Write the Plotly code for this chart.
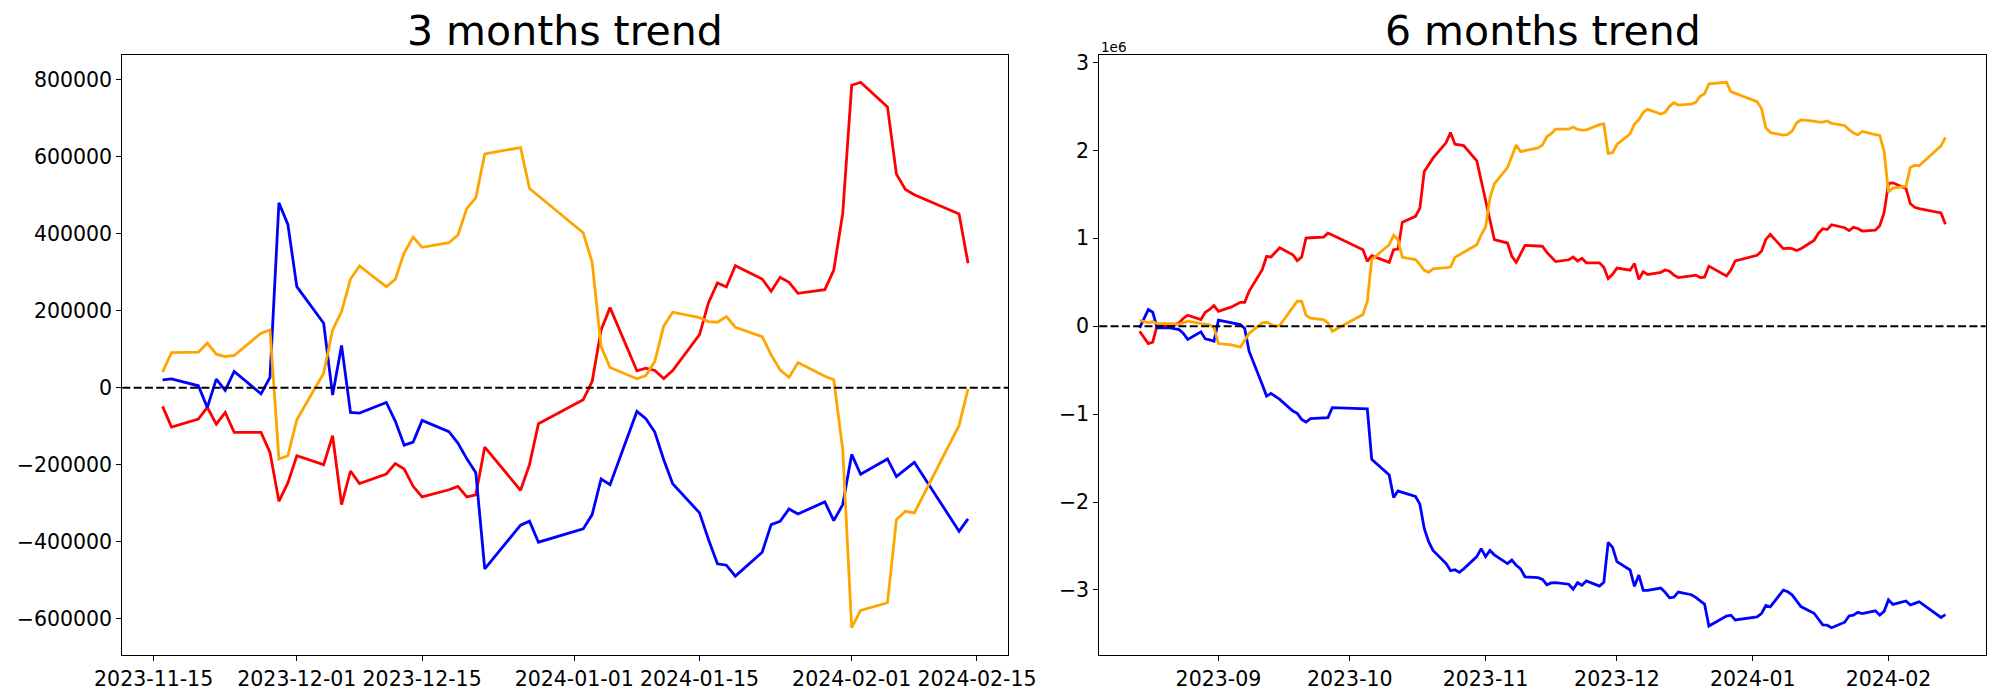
import pandas as pd
import plotly.graph_objects as go

# ---------------- data: 3 months ----------------
dates_3m = ["2023-11-16","2023-11-17","2023-11-20","2023-11-21","2023-11-22","2023-11-23","2023-11-24",
            "2023-11-27","2023-11-28","2023-11-29","2023-11-30",
            "2023-12-01","2023-12-04","2023-12-05","2023-12-06","2023-12-07","2023-12-08","2023-12-11",
            "2023-12-12","2023-12-13","2023-12-14","2023-12-15","2023-12-18","2023-12-19","2023-12-20",
            "2023-12-21","2023-12-22","2023-12-26","2023-12-27","2023-12-28",
            "2024-01-02","2024-01-03","2024-01-04","2024-01-05","2024-01-08","2024-01-09","2024-01-10",
            "2024-01-11","2024-01-12","2024-01-15","2024-01-16","2024-01-17","2024-01-18","2024-01-19",
            "2024-01-22","2024-01-23","2024-01-24","2024-01-25","2024-01-26","2024-01-29","2024-01-30",
            "2024-01-31",
            "2024-02-01","2024-02-02","2024-02-05","2024-02-06","2024-02-07","2024-02-08","2024-02-13",
            "2024-02-14"]

red_3m = [-48400,-102000,-81300,-51000,-94300,-64000,-115900,-115900,-167800,-294900,-247300,
          -176400,-199700,-124500,-303500,-216200,-249000,-224000,-197100,-211000,-256000,-283600,
          -265000,-256000,-283600,-278400,-153900,-266300,-199700,-93400,
          -31100,16400,150500,208300,44100,51100,44900,24100,44900,138300,221300,272400,262000,
          317300,282700,250800,287100,274100,245600,255000,306100,453100,
          786000,793800,729800,555100,515300,501500,451400,323400]

blue_3m = [20800,23300,5200,-51000,22500,-6900,42400,-15600,26800,480800,424500,
           262900,167700,-19000,109800,-64000,-65700,-38000,-86500,-149000,-140900,-84700,
           -114000,-143500,-184600,-220500,-470400,-357100,-346700,-401200,
           -366600,-329400,-236900,-251600,-61400,-80400,-115000,-186800,-249000,-325100,-394300,
           -457400,-460900,-489400,-427100,-355400,-346700,-314700,-327700,-296600,-345000,-303500,
           -173000,-224800,-185000,-230900,-212000,-193700,-372700,-340700]

orange_3m = [40700,91600,92500,115900,87300,81300,83900,141800,150500,-185000,-176400,
             -83000,38000,150500,198000,282700,316500,262900,281900,351000,391700,364900,
             377000,396900,466100,493700,607800,624300,517900,498900,
             402900,326000,107200,52700,23300,32000,68300,160800,196300,182400,172000,170300,
             185000,157400,133100,85600,46700,26800,65700,30000,20800,-160800,
             -623400,-578500,-558600,-342400,-320800,-325100,-97800,-3000]

# ---------------- data: 6 months ----------------
dates_6m_early = ["2023-08-14","2023-08-16","2023-08-17","2023-08-18","2023-08-21","2023-08-22",
                  "2023-08-23","2023-08-24","2023-08-25","2023-08-28","2023-08-29","2023-08-30",
                  "2023-08-31",
                  "2023-09-01","2023-09-04","2023-09-05","2023-09-06","2023-09-07","2023-09-08",
                  "2023-09-11","2023-09-12","2023-09-13","2023-09-14","2023-09-15","2023-09-18",
                  "2023-09-19","2023-09-20","2023-09-21","2023-09-22","2023-09-25","2023-09-26",
                  "2023-09-27",
                  "2023-10-04","2023-10-05","2023-10-06","2023-10-10","2023-10-11","2023-10-12",
                  "2023-10-13","2023-10-16","2023-10-17","2023-10-18","2023-10-19","2023-10-20",
                  "2023-10-23","2023-10-24","2023-10-25","2023-10-26","2023-10-27","2023-10-30",
                  "2023-10-31",
                  "2023-11-01","2023-11-02","2023-11-03","2023-11-06","2023-11-07","2023-11-08",
                  "2023-11-09","2023-11-10","2023-11-13","2023-11-14","2023-11-15"]
dates_6m = dates_6m_early + dates_3m

red_6m = [-57000,-197000,-182000,8000,8000,15000,38000,90000,125000,76000,159000,190000,235000,
          170000,219000,246000,272000,272000,397000,643000,795000,787000,840000,893000,813000,
          745000,787000,1003000,1006000,1014000,1059000,1037000,
          870000,738000,802000,726000,870000,878000,1184000,1249000,1343000,1759000,1835000,
          1911000,2089000,2202000,2070000,2062000,2054000,1880000,1646000,
          1438000,1200000,984000,946000,795000,726000,825000,919000,912000,908000,840000,
          788600,735000,755700,786000,742700,773000,721100,721100,669200,542100,589700,
          660600,637300,712500,533500,620800,588000,613000,639900,626000,581000,553400,
          572000,581000,553400,558600,683100,570700,637300,743600,
          805900,853400,987500,1045300,881100,888100,881900,861100,881900,975300,1058300,
          1109400,1099000,1154300,1119700,1087800,1124100,1111100,1082600,1092000,1143100,1290100,
          1623000,1630800,1566800,1392100,1352300,1338500,1288400,1160400]

blue_6m = [-19000,189000,159000,-19000,-20000,-26000,-38000,-83000,-151000,-64000,-144000,-155000,
           -170000,
           68000,38000,30000,19000,-26000,-284000,-662000,-795000,-764000,-802000,-832000,-965000,
           -991000,-1060000,-1090000,-1052000,-1048000,-1040000,-927000,
           -935000,-940000,-1513000,-1691000,-1949000,-1873000,-1890000,-1937000,-2024000,-2300000,
           -2450000,-2550000,-2700000,-2780000,-2770000,-2800000,-2760000,-2620000,-2530000,
           -2620000,-2550000,-2600000,-2700000,-2660000,-2720000,-2760000,-2850000,-2860000,
           -2880000,-2940000,
           -2919200,-2916700,-2934800,-2991000,-2917500,-2946900,-2897600,-2955600,-2913200,
           -2459200,-2515500,
           -2677100,-2772300,-2959000,-2830200,-3004000,-3005700,-2978000,-3026500,-3089000,
           -3080900,-3024700,-3054000,-3083500,-3124600,-3160500,-3410400,-3297100,-3286700,-3341200,
           -3306600,-3269400,-3176900,-3191600,-3001400,-3020400,-3055000,-3126800,-3189000,
           -3265100,-3334300,-3397400,-3400900,-3429400,-3367100,-3295400,-3286700,-3254700,
           -3267700,-3236600,-3285000,-3243500,
           -3113000,-3164800,-3125000,-3170900,-3152000,-3133700,-3312700,-3280700]

orange_6m = [68000,38000,53000,30000,30000,30000,23000,38000,57000,30000,19000,15000,-20000,
             -197000,-212000,-227000,-238000,-159000,-83000,38000,45000,23000,0,8000,216000,
             284000,284000,125000,91000,76000,38000,-57000,
             132000,284000,757000,927000,1033000,984000,783000,757000,700000,636000,613000,
             651000,666000,673000,783000,813000,844000,927000,1040000,
             1128000,1457000,1619000,1805000,1930000,2062000,1986000,1998000,2028000,2062000,
             2157000,
             2190700,2241600,2242500,2265900,2237300,2231300,2233900,2291800,2300500,1965000,
             1973600,
             2067000,2188000,2300500,2348000,2432700,2466500,2412900,2431900,2501000,2541700,
             2514900,2527000,2546900,2616100,2643700,2757800,2774300,2667900,2648900,
             2552900,2476000,2257200,2202700,2173300,2182000,2218300,2310800,2346300,2332400,
             2322000,2320300,2335000,2307400,2283100,2235600,2196700,2176800,2215700,2180000,
             2170800,1989200,
             1526600,1571500,1591400,1807600,1829200,1824900,2052200,2147000]

# tick definitions
x3_ticks = ["2023-11-15","2023-12-01","2023-12-15","2024-01-01","2024-01-15","2024-02-01","2024-02-15"]
y3_ticks = [-600000,-400000,-200000,0,200000,400000,600000,800000]
x6_ticks = ["2023-09-01","2023-10-01","2023-11-01","2023-12-01","2024-01-01","2024-02-01"]
x6_labels = ["2023-09","2023-10","2023-11","2023-12","2024-01","2024-02"]
y6_ticks = [-3000000,-2000000,-1000000,0,1000000,2000000,3000000]

COLORS = {"red": "#ff0000", "blue": "#0000ff", "orange": "#ffa500"}
FONT = "DejaVu Sans"
LW = 2.8


def minus(s):
    return s.replace("-", "\u2212")


def xrange_pad(dates):
    d = pd.to_datetime(dates)
    pad = (d.max() - d.min()) * 0.05
    return [(d.min() - pad).isoformat(), (d.max() + pad).isoformat()]


def yrange_pad(*series):
    vals = [v for s in series for v in s]
    lo, hi = min(vals), max(vals)
    pad = (hi - lo) * 0.05
    return [lo - pad, hi + pad]


fig = go.Figure()

for name, vals in (("red", red_3m), ("blue", blue_3m), ("orange", orange_3m)):
    fig.add_trace(go.Scatter(x=dates_3m, y=vals, mode="lines", xaxis="x", yaxis="y",
                             line=dict(color=COLORS[name], width=LW), showlegend=False))
for name, vals in (("red", red_6m), ("blue", blue_6m), ("orange", orange_6m)):
    fig.add_trace(go.Scatter(x=dates_6m, y=vals, mode="lines", xaxis="x2", yaxis="y2",
                             line=dict(color=COLORS[name], width=LW), showlegend=False))

axis_common = dict(showline=True, mirror=True, linecolor="black", linewidth=1.1,
                   ticks="outside", ticklen=5, tickwidth=1.1, tickcolor="black",
                   showgrid=False, zeroline=False, automargin=False,
                   tickfont=dict(family=FONT, size=20.5, color="black"))

dom_y = [0.0643, 0.9214]
dom_x1 = [0.06115, 0.50415]
dom_x2 = [0.54965, 0.99285]

fig.update_layout(
    width=2000, height=700,
    margin=dict(l=0, r=0, t=0, b=0, autoexpand=False),
    paper_bgcolor="white", plot_bgcolor="white",
    showlegend=False,
    xaxis=dict(domain=dom_x1, anchor="y", type="date", range=xrange_pad(dates_3m),
               tickmode="array", tickvals=x3_ticks, ticktext=x3_ticks, **axis_common),
    yaxis=dict(domain=dom_y, anchor="x", range=yrange_pad(red_3m, blue_3m, orange_3m),
               tickmode="array", tickvals=y3_ticks,
               ticktext=[minus(str(v)) for v in y3_ticks], **axis_common),
    xaxis2=dict(domain=dom_x2, anchor="y2", type="date", range=xrange_pad(dates_6m),
                tickmode="array", tickvals=x6_ticks, ticktext=x6_labels, **axis_common),
    yaxis2=dict(domain=dom_y, anchor="x2", range=yrange_pad(red_6m, blue_6m, orange_6m),
                tickmode="array", tickvals=y6_ticks,
                ticktext=[minus(str(v // 1000000)) for v in y6_ticks], **axis_common),
)

# dashed zero lines
for xref, yref in (("x domain", "y"), ("x2 domain", "y2")):
    fig.add_shape(type="line", xref=xref, yref=yref, x0=0, x1=1, y0=0, y1=0,
                  line=dict(color="black", width=2.1, dash="8px,3.3px"))

# titles
title_y = 0.9555
fig.add_annotation(text="3 months trend", xref="paper", yref="paper",
                   x=(dom_x1[0] + dom_x1[1]) / 2, y=title_y, xanchor="center", yanchor="middle",
                   showarrow=False, font=dict(family=FONT, size=41, color="black"))
fig.add_annotation(text="6 months trend", xref="paper", yref="paper",
                   x=(dom_x2[0] + dom_x2[1]) / 2, y=title_y, xanchor="center", yanchor="middle",
                   showarrow=False, font=dict(family=FONT, size=41, color="black"))
# offset text
fig.add_annotation(text="1e6", xref="paper", yref="paper",
                   x=dom_x2[0], y=0.9329, xanchor="left", yanchor="middle",
                   showarrow=False, font=dict(family=FONT, size=13.5, color="black"))

fig.write_html("out.html", config={"displayModeBar": False},
               post_script="document.body.style.margin='0';document.body.style.overflow='hidden';")
